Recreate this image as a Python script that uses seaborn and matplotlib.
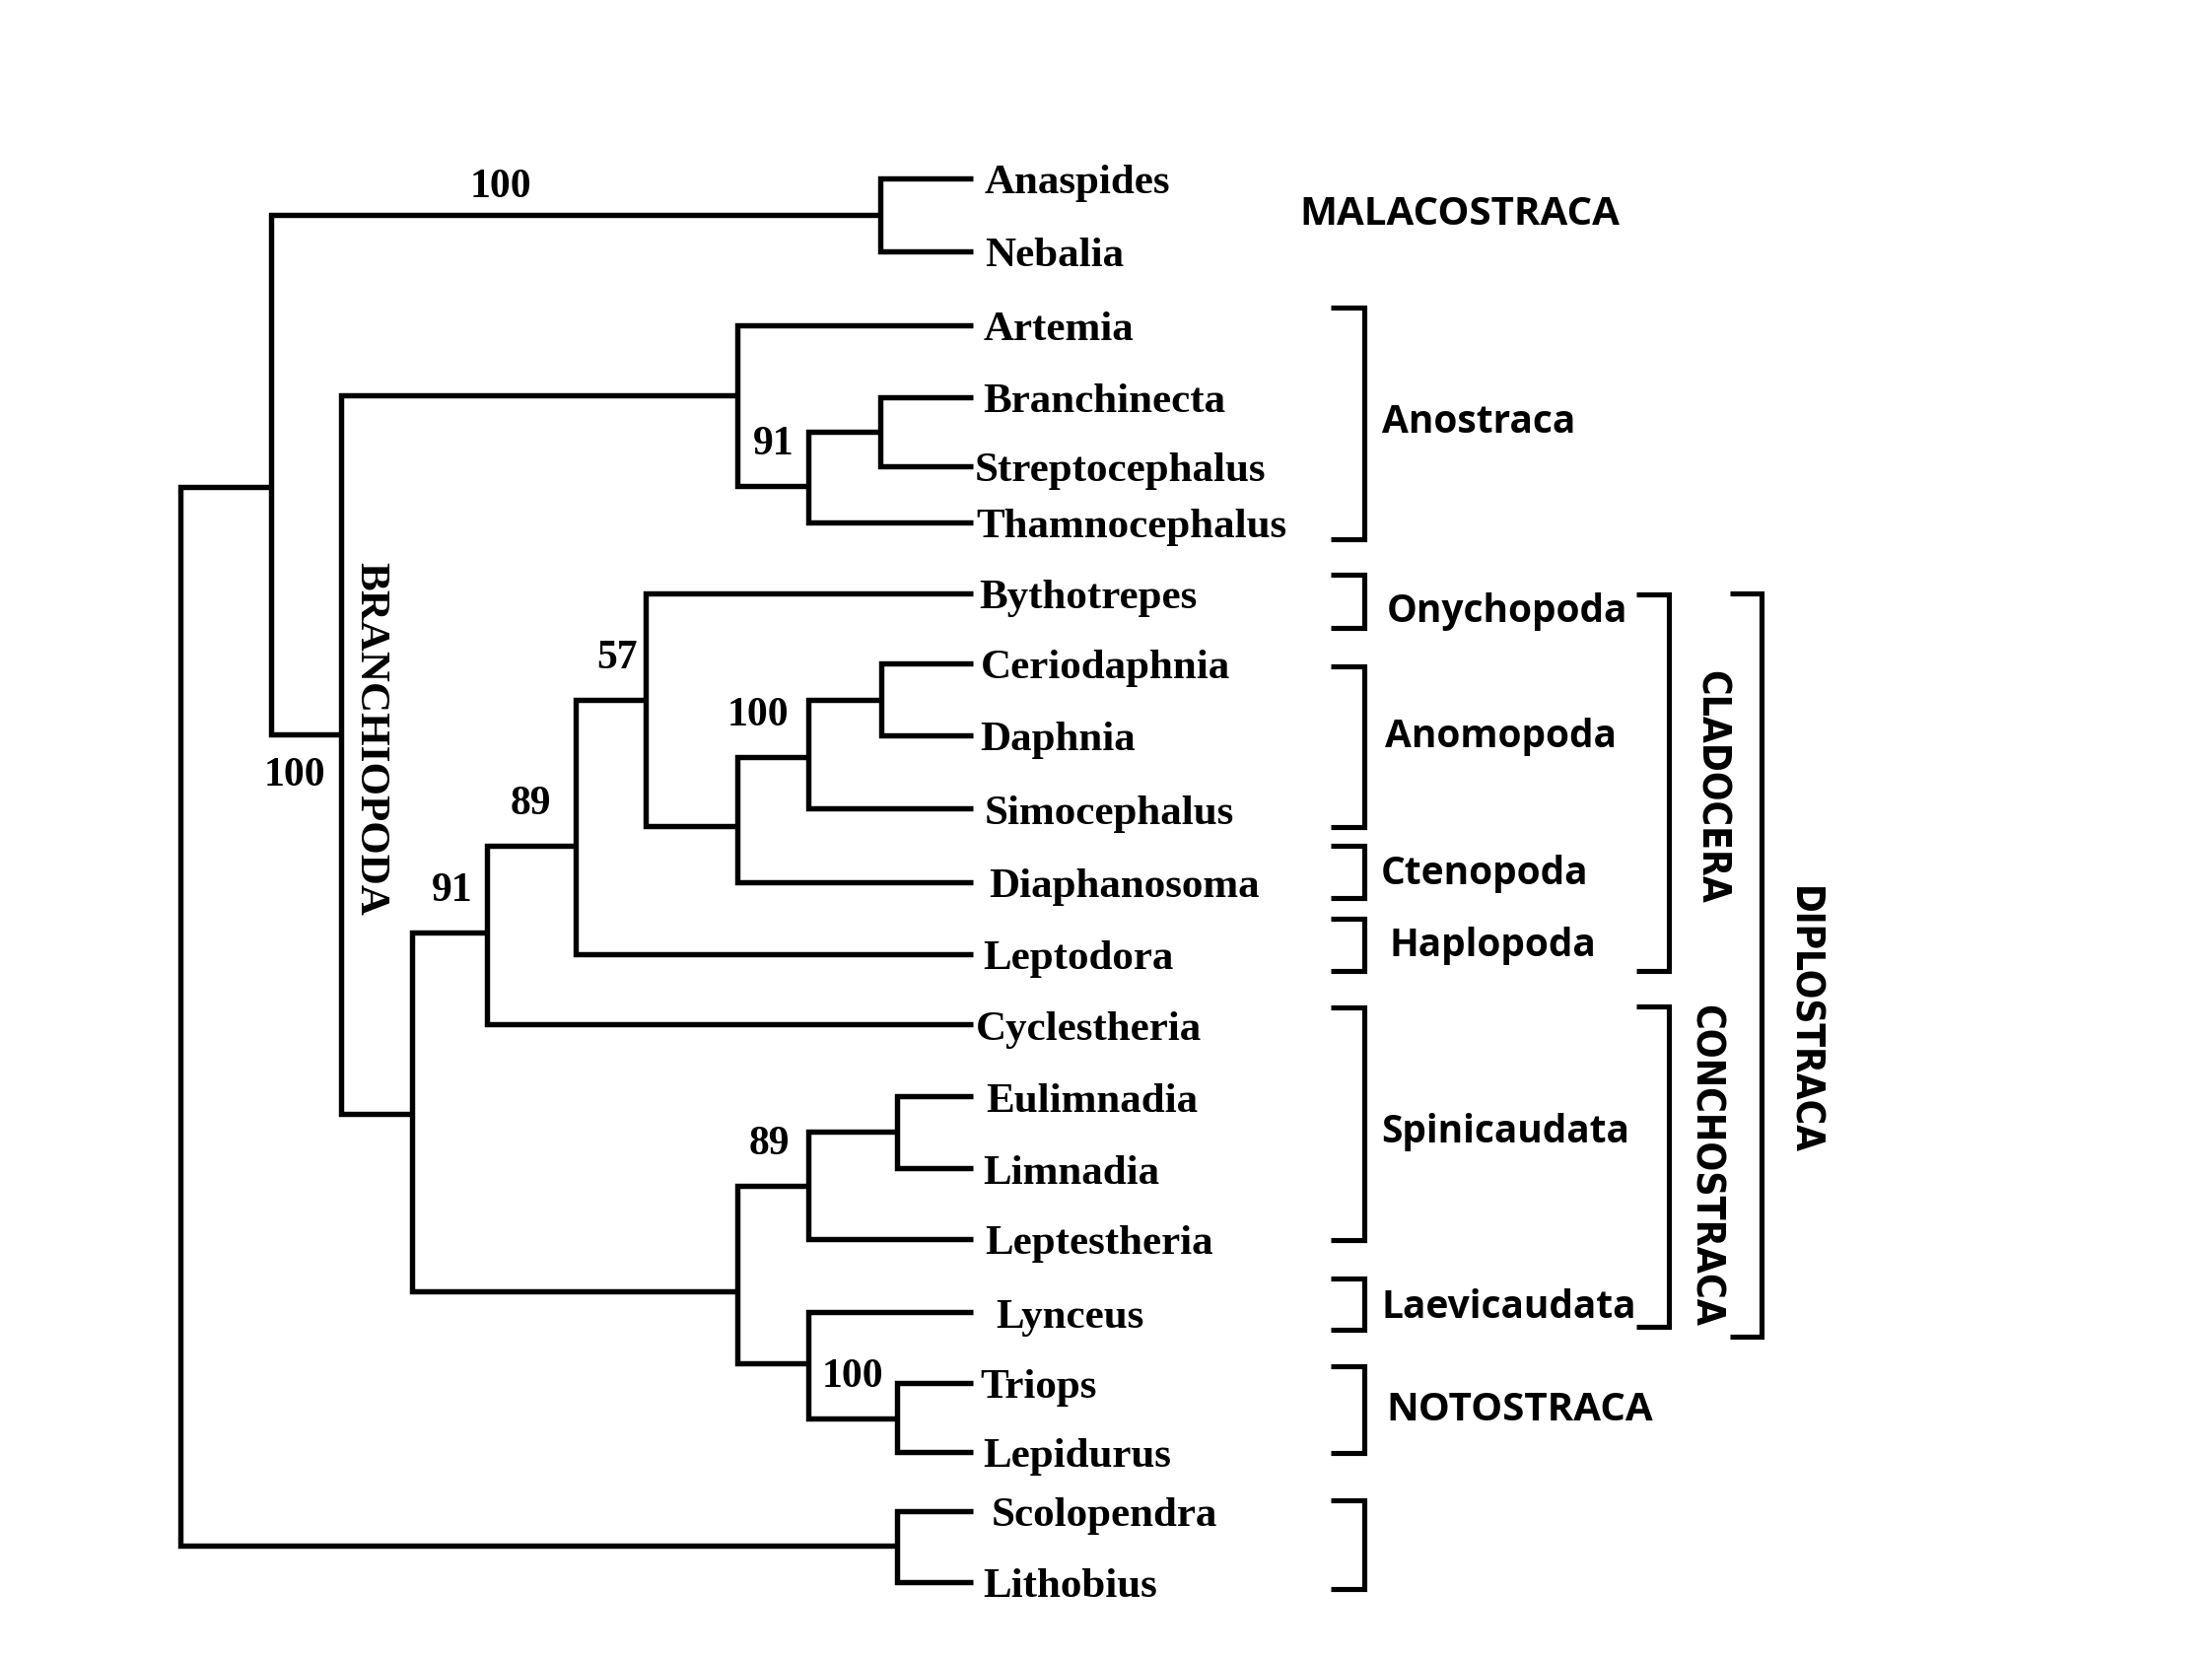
import numpy as np
import pandas as pd
import matplotlib
matplotlib.use("Agg")
import matplotlib.pyplot as plt
import seaborn as sns
from matplotlib import font_manager
from matplotlib.font_manager import FontProperties

# ---------------- data ----------------
taxa = ["Anaspides", "Nebalia", "Artemia", "Branchinecta", "Streptocephalus",
        "Thamnocephalus", "Bythotrepes", "Ceriodaphnia", "Daphnia", "Simocephalus",
        "Diaphanosoma", "Leptodora", "Cyclestheria", "Eulimnadia", "Limnadia",
        "Leptestheria", "Lynceus", "Triops", "Lepidurus", "Scolopendra", "Lithobius"]
tip_y = [127, 179, 231, 282, 331, 371, 421, 471, 522, 574, 626, 677, 727,
         778, 829, 879, 931, 981, 1030, 1072, 1122]
label_x = [698, 698, 697, 697, 691, 692, 694, 695, 695, 698, 701, 697, 692,
           699, 697, 698, 706, 695, 697, 703, 697]

node_names = ["root", "pancrust", "mala", "branchiopoda", "anostraca", "anos2", "bs",
              "phyllopoda", "cladcyc", "cladocera", "n57", "anodia", "anomopoda", "cd",
              "concho", "spini", "el", "lynnoto", "noto", "myria"]
node_depth = [128, 192, 624, 242, 523, 573, 624,
              292, 345, 408, 458, 523, 573, 625,
              523, 573, 636, 573, 636, 636]
node_y = [721, 346, 153, 521, 281, 345, 307,
          790, 662, 600, 497, 586, 537, 497,
          916, 841, 803, 967, 1006, 1096]
node_children = [["pancrust", "myria"], ["mala", "branchiopoda"], ["Anaspides", "Nebalia"],
                 ["anostraca", "phyllopoda"], ["Artemia", "anos2"], ["bs", "Thamnocephalus"],
                 ["Branchinecta", "Streptocephalus"], ["cladcyc", "concho"],
                 ["cladocera", "Cyclestheria"], ["n57", "Leptodora"], ["Bythotrepes", "anodia"],
                 ["anomopoda", "Diaphanosoma"], ["cd", "Simocephalus"], ["Ceriodaphnia", "Daphnia"],
                 ["spini", "lynnoto"], ["el", "Leptestheria"], ["Eulimnadia", "Limnadia"],
                 ["Lynceus", "noto"], ["Triops", "Lepidurus"], ["Scolopendra", "Lithobius"]]
support_nodes = ["mala", "branchiopoda", "anos2", "n57", "anomopoda", "cladocera",
                 "cladcyc", "spini", "noto"]
support_values = [100, 100, 91, 57, 100, 89, 91, 89, 100]

group_names = ["Anostraca", "Onychopoda", "Anomopoda", "Ctenopoda", "Haplopoda",
               "Spinicaudata", "Laevicaudata", "NOTOSTRACA", ""]
group_top = [219, 408, 473, 600, 652, 715, 907, 969, 1064]
group_bottom = [383, 446, 587, 637, 689, 880, 943, 1031, 1127]

upper_names = ["CLADOCERA", "CONCHOSTRACA", "DIPLOSTRACA"]
upper_top = [422, 714, 421]
upper_bottom = [689, 941, 948]

# ---------------- layout ----------------
W, H = 1568, 1176
TIP_END = 690
depth = dict(zip(node_names, node_depth))
children = dict(zip(node_names, node_children))
ypos = dict(zip(taxa, tip_y))
ypos.update(dict(zip(node_names, node_y)))

def xend(n):
    return depth.get(n, TIP_END)

rows = []
seg = 0
for n in node_names:
    c1, c2 = children[n]
    x = depth[n]
    pts = [(xend(c1), ypos[c1]), (x, ypos[c1]), (x, ypos[c2]), (xend(c2), ypos[c2])]
    for px, py in pts:
        rows.append({"seg": seg, "x": px, "y": py, "kind": "tree"})
    seg += 1

BX0, BX1 = 943, 967
for t, b in zip(group_top, group_bottom):
    for px, py in [(BX0, t), (BX1, t), (BX1, b), (BX0, b)]:
        rows.append({"seg": seg, "x": px, "y": py, "kind": "bracket"})
    seg += 1
UX = [(1160, 1183), (1160, 1183), (1226, 1249)]
for (x0, x1), t, b in zip(UX, upper_top, upper_bottom):
    for px, py in [(x0, t), (x1, t), (x1, b), (x0, b)]:
        rows.append({"seg": seg, "x": px, "y": py, "kind": "bracket"})
    seg += 1
df = pd.DataFrame(rows)

# ---------------- fonts ----------------
sns.set_theme(style="white")
plt.rcParams["text.color"] = "black"
flist = font_manager.fontManager.ttflist
names = {f.name for f in flist}
serif = "Liberation Serif" if "Liberation Serif" in names else "DejaVu Serif"


def is_bold(f):
    w = f.weight
    if isinstance(w, str):
        return w.lower() in ("bold", "heavy", "black", "extra bold", "semibold", "demibold")
    return w >= 600

sans = "Open Sans"
if not any(f.name == "Open Sans" and is_bold(f) for f in flist):
    sans = "Lato" if "Lato" in names else "DejaVu Sans"

# condensed bold font for the vertical labels, if any is installed
cond = [f for f in flist if is_bold(f) and
        ("Narrow" in f.name or "Condensed" in f.name or
         str(f.stretch).lower() in ("condensed", "semi-condensed", "extra-condensed", "ultra-condensed"))
        and "Serif" not in f.name and "Mono" not in f.name]
if cond:
    narrow_fp = FontProperties(fname=cond[0].fname)
else:
    narrow_fp = FontProperties(family=sans, weight="bold")

fig = plt.figure(figsize=(22.44, 16.83), dpi=100)
ax = fig.add_axes([0, 0, 1, 1])
tree_df = df[df["kind"] == "tree"]
br_df = df[df["kind"] == "bracket"]
sns.lineplot(data=tree_df, x="x", y="y", units="seg", estimator=None, sort=False,
             color="black", linewidth=3.9, ax=ax, legend=False,
             solid_joinstyle="miter", solid_capstyle="butt")
sns.lineplot(data=br_df, x="x", y="y", units="seg", estimator=None, sort=False,
             color="black", linewidth=3.7, ax=ax, legend=False,
             solid_joinstyle="miter", solid_capstyle="butt")
ax.set_xlim(0, W)
ax.set_ylim(H, 0)
ax.axis("off")

# taxon labels
for name, y, lx in zip(taxa, tip_y, label_x):
    ax.text(lx, y + 10, name, family=serif, weight="bold", fontsize=31,
            color="black", ha="left", va="baseline")

# bootstrap supports
support_dx = {"n57": 4, "anomopoda": -4, "cladocera": -7, "spini": -3}
for n, v in zip(support_nodes, support_values):
    x, y = depth[n], ypos[n]
    if n == "mala":
        tx, ty = 377, y - 20
    elif n == "branchiopoda":
        tx, ty = 231, y + 29
    else:
        tx, ty = x - 10 + support_dx.get(n, 0), y - 30
    ax.text(tx, ty, str(v), family=serif, weight="bold", fontsize=30,
            color="black", ha="right", va="center")

ax.text(262, 524, "BRANCHIOPODA", family=serif, weight="bold", fontsize=31,
        color="black", rotation=270, ha="center", va="center")

# group labels
group_label_x = [980, 983, 982, 979, 985, 979, 979, 983]
group_baseline = [307, 441, 530, 627, 678, 810, 934, 1007]
for name, gx, gy in zip(group_names[:-1], group_label_x, group_baseline):
    ax.text(gx, gy, name, family=sans, weight="bold",
            fontsize=29 if name.isupper() else 28,
            color="black", ha="left", va="baseline")
ax.text(921, 159, "MALACOSTRACA", family=sans, weight="bold", fontsize=29,
        color="black", ha="left", va="baseline")

# vertical upper-level labels, sized to their measured lengths
upper_cx = [1213, 1209, 1278]
upper_cy = [558, 826, 723]
upper_len = [165, 228, 190]
fig.canvas.draw()
renderer = fig.canvas.get_renderer()
px_per_unit = fig.get_size_inches()[1] * fig.dpi / H
for name, cx, cy, L in zip(upper_names, upper_cx, upper_cy, upper_len):
    fp = narrow_fp.copy()
    fp.set_size(30)
    t = ax.text(cx, cy, name, fontproperties=fp, color="black",
                rotation=270, ha="center", va="center")
    bb = t.get_window_extent(renderer)
    fp.set_size(30 * (L * px_per_unit) / bb.height)
    t.set_fontproperties(fp)

fig.savefig("out.png", dpi=100, facecolor="white")
